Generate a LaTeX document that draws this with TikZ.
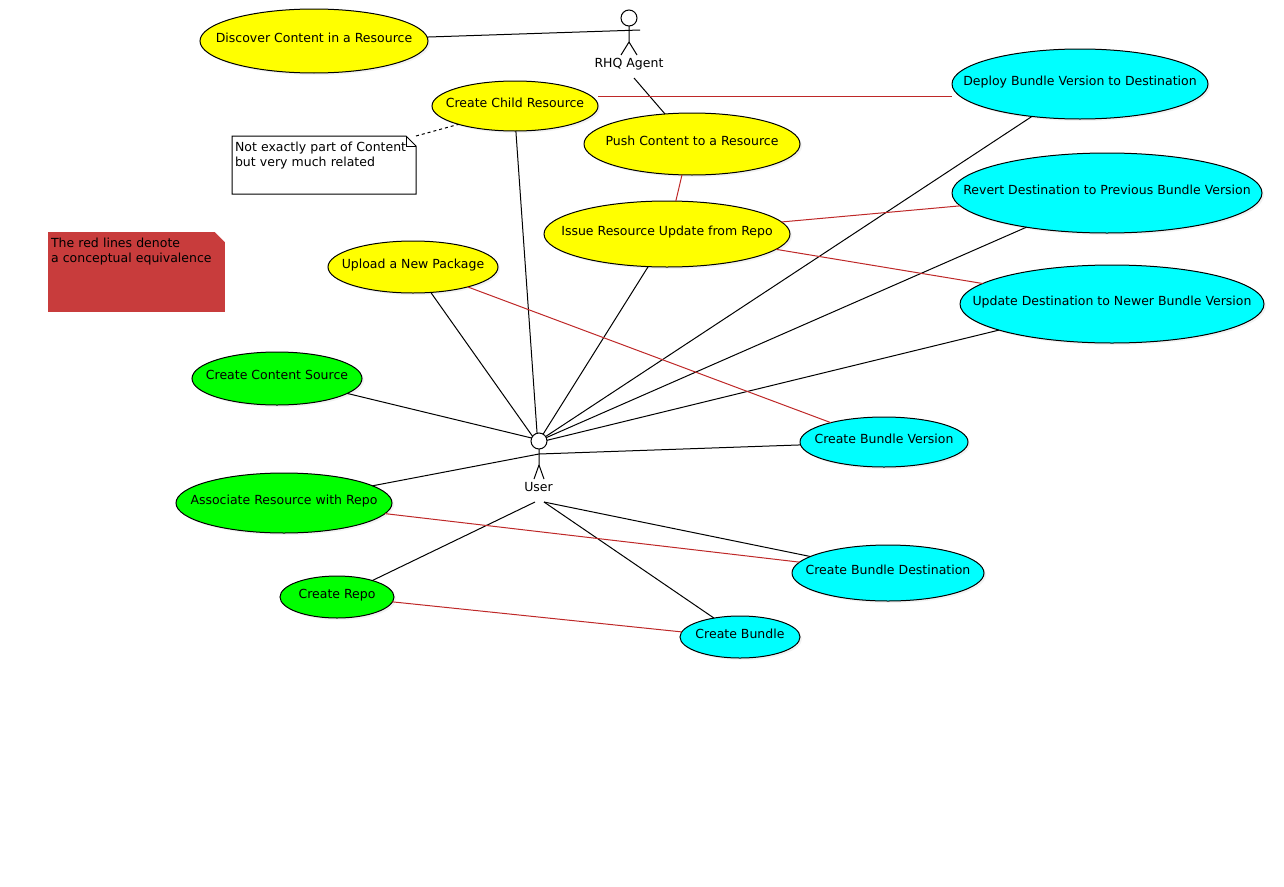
\documentclass[tikz,border=0pt]{standalone}
\usepackage{fontspec}
\setmainfont{DejaVu Sans}
\usepackage{tikz}
\usetikzlibrary{shapes,calc,shadows}
\definecolor{linkred}{RGB}{190,40,40}
\definecolor{legendred}{RGB}{200,60,60}
\definecolor{caseyellow}{RGB}{255,255,0}
\definecolor{casegreen}{RGB}{0,255,0}
\definecolor{casecyan}{RGB}{0,255,255}
\tikzset{usecase/.style={ellipse,draw,drop shadow={shadow xshift=2pt,shadow yshift=-2pt,opacity=.1},inner xsep=-70pt,inner ysep=0pt,outer sep=0pt,text height=10pt,text depth=8pt,font=\fontsize{12.5}{15}\selectfont},
	yellowcase/.style={usecase,fill=caseyellow},
	greencase/.style={usecase,fill=casegreen},
	cyancase/.style={usecase,fill=casecyan},
	notebox/.style={rectangle,anchor=north west,align=left,inner xsep=3pt,inner ysep=0pt,outer sep=0pt,font=\fontsize{12.5}{15}\selectfont},
	actorhead/.style={circle,draw,fill=white,minimum size=16pt,inner sep=0pt,outer sep=0pt},
	actorlabel/.style={inner sep=0pt,font=\fontsize{12.5}{15}\selectfont}}

\begin{document}
\begin{tikzpicture}[x=1pt,y=-1pt,line width=1pt]
	\useasboundingbox (0,0) rectangle (1284,886);
	% use cases
	\node[yellowcase, minimum width=228pt, minimum height=64pt] (discover) at (314,41) {Discover Content in a Resource};
	\node[yellowcase, minimum width=166pt, minimum height=50pt] (child) at (515,106) {Create Child Resource};
	\node[yellowcase, minimum width=216pt, minimum height=62pt] (push) at (692,144) {Push Content to a Resource};
	\node[yellowcase, minimum width=246pt, minimum height=66pt] (issue) at (667,234) {Issue Resource Update from Repo};
	\node[yellowcase, minimum width=170pt, minimum height=52pt] (upload) at (413,267) {Upload a New Package};
	\node[cyancase, minimum width=256pt, minimum height=70pt] (deploy) at (1080,84) {Deploy Bundle Version to Destination};
	\node[cyancase, minimum width=310pt, minimum height=80pt] (revert) at (1107,193) {Revert Destination to Previous Bundle Version};
	\node[cyancase, minimum width=304pt, minimum height=78pt] (update) at (1112,304) {Update Destination to Newer Bundle Version};
	\node[cyancase, minimum width=168pt, minimum height=50pt] (version) at (884,442) {Create Bundle Version};
	\node[cyancase, minimum width=192pt, minimum height=56pt] (destination) at (888,573) {Create Bundle Destination};
	\node[cyancase, minimum width=120pt, minimum height=42pt] (bundle) at (740,637) {Create Bundle};
	\node[greencase, minimum width=170pt, minimum height=53pt] (source) at (277,378.5) {Create Content Source};
	\node[greencase, minimum width=216pt, minimum height=60pt] (associate) at (284,503) {Associate Resource with Repo};
	\node[greencase, minimum width=114pt, minimum height=42pt] (repo) at (337,597) {Create Repo};

	% actors
	\node[actorhead] (agent) at (629,18) {};
	\node[actorlabel] (agentname) at (629,64) {RHQ Agent};
	\coordinate (agentarm) at (640,30);
	\coordinate (agentfoot) at (634,78);
	\draw (agent.south) -- ++(0,16) coordinate (agenthip) -- ++(-8,13);
	\draw (agenthip) -- ++(8,13);
	\node[actorhead] (user) at (539,441) {};
	\node[actorlabel] (username) at (538.5,487) {User};
	\coordinate (userarm) at (539,454);
	\coordinate (userfootl) at (535,502);
	\coordinate (userfootr) at (544,502);
	\draw (user.south) -- ++(0,16) coordinate (userhip) -- ++(-5,14);
	\draw (userhip) -- ++(5,14);

	% notes
	\node[notebox, text width=178pt] (note) at (232,136) {\rule{0pt}{15pt}Not exactly part of Content\\but very much related\rule[-28pt]{0pt}{0pt}};
	\draw (note.south west) -- (note.north west) -- ([xshift=-10pt]note.north east) -- ([yshift=-10pt]note.north east) -- (note.south east) -- cycle;
	\draw ([xshift=-10pt]note.north east) |- ([yshift=-10pt]note.north east);
	\node[notebox, fill=legendred, text width=171pt] (legend) at (48,232) {\rule{0pt}{15pt}The red lines denote\\a conceptual equivalence\rule[-50pt]{0pt}{0pt}};
	\fill[white] ([xshift=-10pt]legend.north east) -- ([shift={(1pt,1pt)}]legend.north east) -- ([yshift=-10pt]legend.north east) -- cycle;

	\path[draw]
	(discover.2) edge (agentarm)
	(agentfoot) edge (push.132)
	(child.-88) edge (user.104)
	(upload.-55) edge (user.144)
	(issue.240) edge (user.59)
	(deploy.214.5) edge (user.34)
	(revert.203.3) edge (user.25)
	(update.193.8) edge (user.5)
	(source.-12.5) edge (user.158)
	(associate.11.4) edge (userarm)
	(version.182) edge (userarm)
	(repo.25.9) edge (userfootl)
	(bundle.144.9) edge (userfootr)
	(destination.168) edge (userfootr);
	\draw[dashed] (note.north east) -- (child.198);

	\path[draw,linkred]
	([yshift=10pt]child.east) edge ([yshift=-12pt]deploy.west)
	(push.252) edge (issue.75)
	(issue.6) edge (revert.185.4)
	(issue.-8.7) edge (update.171.3)
	(upload.-20) edge (version.160.6)
	(associate.-6.7) edge (destination.173.3)
	(repo.-5.4) edge (bundle.175);
\end{tikzpicture}
\end{document}
